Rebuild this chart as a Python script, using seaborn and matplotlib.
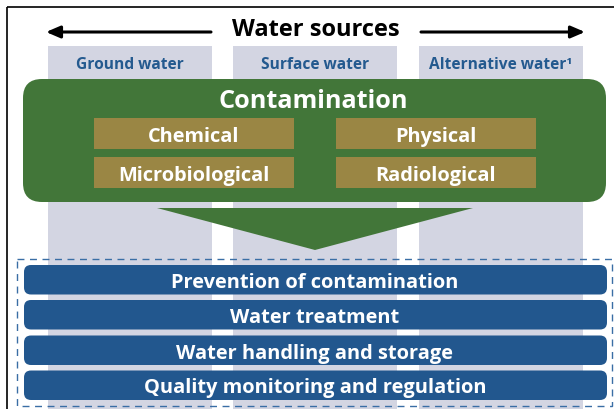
import matplotlib
matplotlib.use("Agg")
import matplotlib.pyplot as plt
from matplotlib.patches import FancyBboxPatch, Rectangle, Polygon
import seaborn as sns

# ---- content ----
title = "Water sources"
sources = ["Ground water", "Surface water", "Alternative water\u00b9"]
contam_title = "Contamination"
contaminants = ["Chemical", "Physical", "Microbiological", "Radiological"]
barriers = ["Prevention of contamination", "Water treatment",
            "Water handling and storage", "Quality monitoring and regulation"]

# ---- colours ----
C_COL = "#d3d5e2"
C_GREEN = "#427639"
C_TAN = "#9a8644"
C_BLUE = "#22578e"
C_LABEL = "#245a8f"
C_DASH = "#3a6ea5"

sns.set_theme(style="white")
plt.rcParams["font.family"] = ["Open Sans", "DejaVu Sans"]

W, H = 614, 409
fig = plt.figure(figsize=(W / 100, H / 100), dpi=100)
ax = fig.add_axes([0, 0, 1, 1])
ax.set_xlim(0, W)
ax.set_ylim(H, 0)
ax.axis("off")

# outer frame
ax.plot([7, 7], [7, H + 2], color="black", lw=1.2, solid_capstyle="butt")
ax.plot([7, W + 2], [7, 7], color="black", lw=1.2, solid_capstyle="butt")

# title with arrows
ax.text(316, 27.5, title, ha="center", va="center_baseline", fontsize=17,
        fontweight="bold", color="black")
ax.annotate("", xy=(46, 32), xytext=(211, 32),
            arrowprops=dict(arrowstyle="-|>,head_length=0.7,head_width=0.3",
                            color="black", lw=2.2, shrinkA=0, shrinkB=0))
ax.annotate("", xy=(585, 32), xytext=(421, 32),
            arrowprops=dict(arrowstyle="-|>,head_length=0.7,head_width=0.3",
                            color="black", lw=2.2, shrinkA=0, shrinkB=0))

# source columns
col_x = [48, 233, 419]
col_w = 164
for x, lab in zip(col_x, sources):
    ax.add_patch(Rectangle((x, 46), col_w, H - 46 + 5, facecolor=C_COL,
                           edgecolor="none", zorder=1))
    ax.text(x + col_w / 2, 63, lab, ha="center", va="center_baseline",
            fontsize=11.2, fontweight="bold", color=C_LABEL, zorder=2)

# contamination box
ax.add_patch(FancyBboxPatch((23, 79), 583, 123,
                            boxstyle="round,pad=0,rounding_size=19",
                            facecolor=C_GREEN, edgecolor="none", zorder=3))
ax.text(313, 99, contam_title, ha="center", va="center_baseline",
        fontsize=18.2, fontweight="bold", color="white", zorder=4)
tan_pos = [(94, 118), (336, 118), (94, 157), (336, 157)]
for (x, y), lab in zip(tan_pos, contaminants):
    ax.add_patch(Rectangle((x, y), 200, 31, facecolor=C_TAN,
                           edgecolor="none", zorder=4))
    ax.text(x + 100, y + 16.5, lab, ha="center", va="center_baseline",
            fontsize=14.4, fontweight="bold", color="white", zorder=5)

# funnel arrow
ax.add_patch(Polygon([(157, 208), (473, 208), (315, 250)], closed=True,
                     facecolor=C_GREEN, edgecolor="none", zorder=3))

# dashed frame
ax.add_patch(Rectangle((17, 258.5), 595, 147, facecolor="none",
                       edgecolor=C_DASH, lw=1.0, linestyle=(0, (5, 4)),
                       zorder=3))

# barrier bars
bar_y = [265, 300, 335.5, 370.5]
for y, lab in zip(bar_y, barriers):
    ax.add_patch(FancyBboxPatch((24, y), 583, 29.5,
                                boxstyle="round,pad=0,rounding_size=7",
                                facecolor=C_BLUE, edgecolor="none", zorder=4))
    ax.text(315, y + 15.5, lab, ha="center", va="center_baseline",
            fontsize=14.4, fontweight="bold", color="white", zorder=5)

fig.savefig("out.png", dpi=100)
